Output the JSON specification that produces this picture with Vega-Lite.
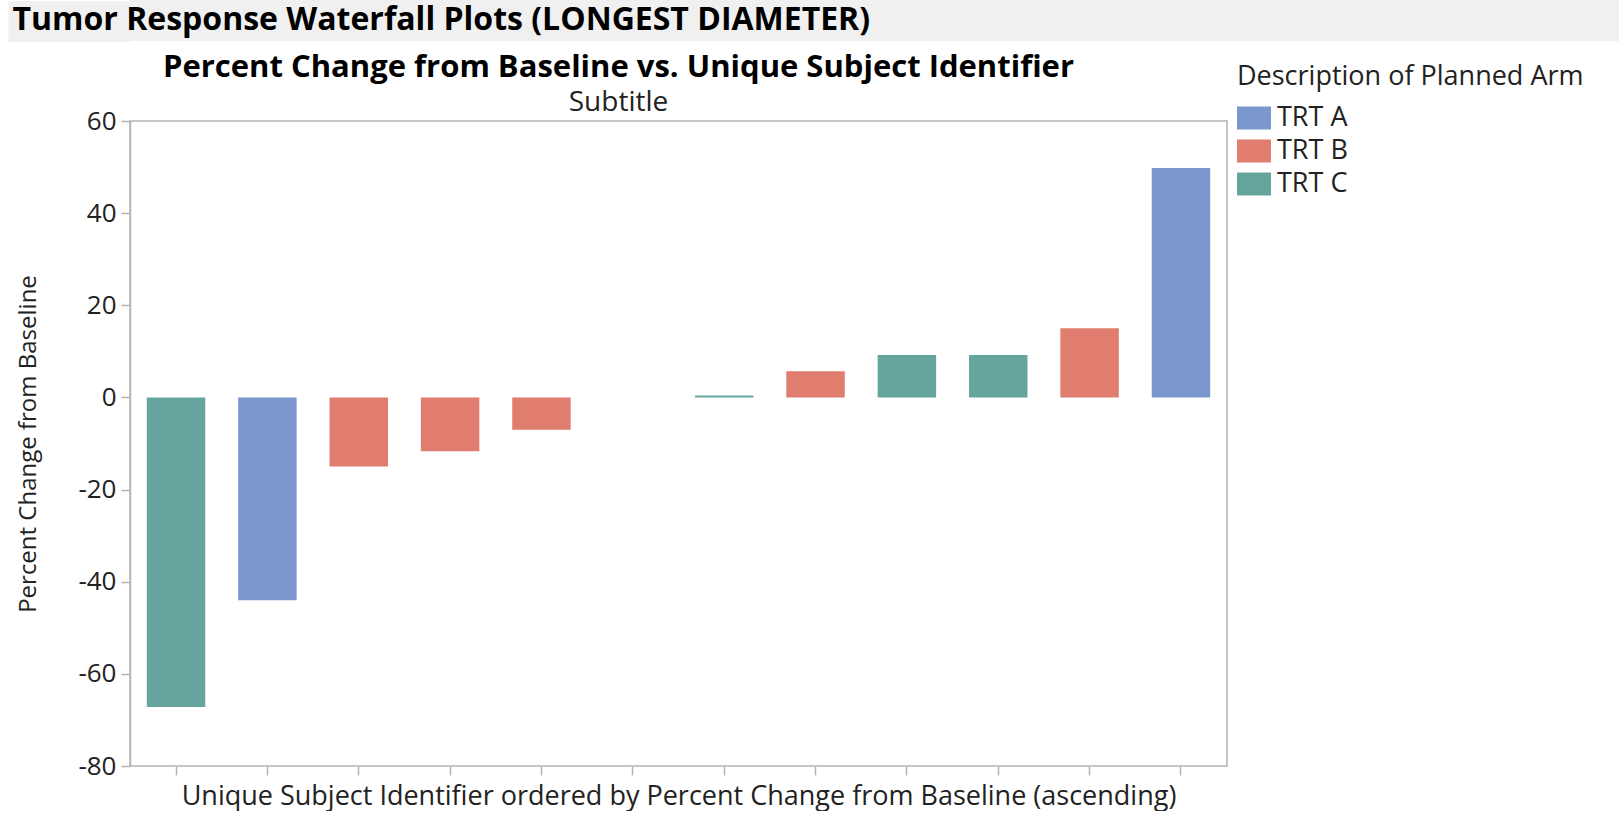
{
  "$schema": "https://vega.github.io/schema/vega-lite/v6.json",
  "padding": {"left": -13, "top": 0, "right": 0, "bottom": 0},
  "background": "white",
  "spacing": 9,
  "config": {
    "font": "Open Sans",
    "view": {"stroke": "#b4b4b4", "strokeWidth": 1.5},
    "axis": {"grid": false, "domainColor": "#b4b4b4", "tickColor": "#b4b4b4", "domainWidth": 1.5, "tickWidth": 1.5, "labelColor": "#222222", "titleColor": "#222222", "titleFontWeight": "normal", "labelFont": "Open Sans", "titleFont": "Open Sans"}
  },
  "vconcat": [
    {
      "width": 1489,
      "height": 41,
      "data": {"values": [{"header": "Tumor Response Waterfall Plots (LONGEST DIAMETER)", "v": 0.5}]},
      "view": {"fill": "#f0f0f0", "stroke": null},
      "title": {"text": "Tumor Response Waterfall Plots (LONGEST DIAMETER)", "anchor": "start", "frame": "bounds", "orient": "top", "offset": -37, "fontSize": 32, "fontWeight": "bold", "color": "#000000", "dx": 25, "font": "Open Sans"},
      "mark": {"type": "text"},
      "encoding": {
        "text": {"value": ""},
        "y": {
          "field": "v",
          "type": "quantitative",
          "scale": {"domain": [0, 1], "nice": false, "zero": false},
          "axis": {"values": [0.5], "labels": false, "domain": false, "title": null, "grid": false, "ticks": true, "tickSize": 122, "tickWidth": 41, "tickColor": "#f0f0f0", "tickCap": "butt", "minExtent": 0}
        }
      }
    },
    {
      "resolve": {"legend": {"color": "independent"}},
      "hconcat": [
        {
          "width": 1097,
          "height": 645,
          "data": {
            "values": [
              {"subject": "01-001", "arm": "TRT C", "pct": -67.2},
              {"subject": "01-002", "arm": "TRT A", "pct": -44.0},
              {"subject": "01-003", "arm": "TRT B", "pct": -15.0},
              {"subject": "01-004", "arm": "TRT B", "pct": -11.7},
              {"subject": "01-005", "arm": "TRT B", "pct": -7.0},
              {"subject": "01-006", "arm": "TRT A", "pct": 0.0},
              {"subject": "01-007", "arm": "TRT C", "pct": 0.4},
              {"subject": "01-008", "arm": "TRT B", "pct": 5.7},
              {"subject": "01-009", "arm": "TRT C", "pct": 9.2},
              {"subject": "01-010", "arm": "TRT C", "pct": 9.21},
              {"subject": "01-011", "arm": "TRT B", "pct": 15.0},
              {"subject": "01-012", "arm": "TRT A", "pct": 49.8}
            ]
          },
          "title": {
            "text": "Percent Change from Baseline vs. Unique Subject Identifier",
            "subtitle": "Subtitle",
            "anchor": "middle",
            "frame": "group",
            "dx": -60,
            "fontSize": 31,
            "fontWeight": "bold",
            "color": "#000000",
            "subtitleFontSize": 28,
            "subtitleColor": "#222222",
            "subtitlePadding": 5,
            "offset": -54,
            "font": "Open Sans",
            "subtitleFont": "Open Sans"
          },
          "mark": {"type": "bar"},
          "encoding": {
            "x": {
              "field": "subject",
              "type": "nominal",
              "sort": {"field": "pct", "order": "ascending"},
              "scale": {"paddingInner": 0.36, "paddingOuter": 0.184},
              "axis": {"labels": false, "tickSize": 9, "domain": false, "title": "Unique Subject Identifier ordered by Percent Change from Baseline (ascending)", "titleFontSize": 27, "titlePadding": 8}
            },
            "y": {
              "field": "pct",
              "type": "quantitative",
              "scale": {"domain": [-80, 60], "nice": false, "zero": false},
              "axis": {"values": [-80, -60, -40, -20, 0, 20, 40, 60], "labelExpr": "replace(datum.label, '\u2212', '-')", "tickSize": 9, "labelPadding": 5, "labelFontSize": 26, "title": "Percent Change from Baseline", "titleFontSize": 24, "titlePadding": 37}
            },
            "color": {
              "field": "arm",
              "type": "nominal",
              "scale": {"domain": ["TRT A", "TRT B", "TRT C"], "range": ["#7b97cd", "#e07d6e", "#66a59d"]},
              "legend": {
                "title": "Description of Planned Arm",
                "orient": "none",
                "legendX": 1107,
                "legendY": -57,
                "titleFontSize": 27,
                "titleFontWeight": "normal",
                "titleColor": "#222222",
                "titleLimit": 600,
                "titlePadding": 10,
                "labelFontSize": 27,
                "labelColor": "#222222",
                "labelOffset": 6,
                "symbolType": "M-1,-0.68L1,-0.68L1,0.68L-1,0.68Z",
                "symbolSize": 1156,
                "symbolStrokeWidth": 0,
                "symbolOpacity": 1,
                "rowPadding": 3
              }
            }
          }
        }
      ]
    }
  ]
}
